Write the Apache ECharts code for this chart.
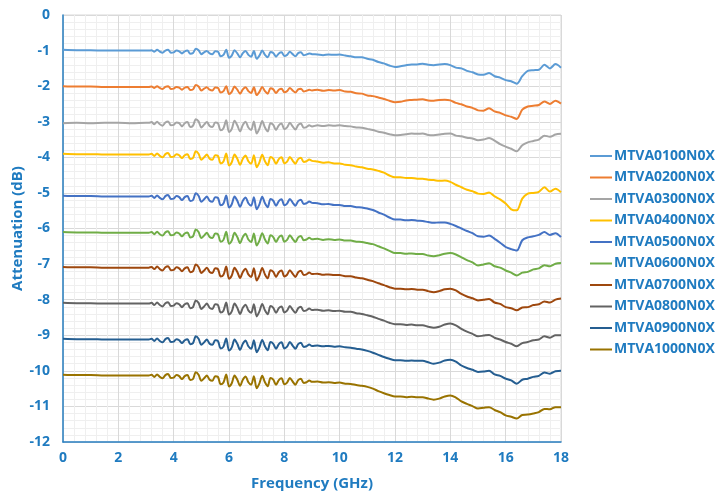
<!DOCTYPE html>
<html>
<head>
<meta charset="utf-8">
<script src="https://cdn.jsdelivr.net/npm/echarts@6/dist/echarts.min.js"></script>
<style>
html,body{margin:0;padding:0;background:#fff;}
#chart{width:723px;height:495px;}
</style>
</head>
<body>
<div id="chart"></div>
<script>
const seriesNames = ['MTVA0100N0X','MTVA0200N0X','MTVA0300N0X','MTVA0400N0X','MTVA0500N0X','MTVA0600N0X','MTVA0700N0X','MTVA0800N0X','MTVA0900N0X','MTVA1000N0X'];
const seriesColors = ['#5B9BD5','#ED7D31','#A5A5A5','#FFC000','#4472C4','#70AD47','#9E480E','#636363','#255E91','#997300'];
const xTicks = [0,2,4,6,8,10,12,14,16,18];
const yTicks = [0,-1,-2,-3,-4,-5,-6,-7,-8,-9,-10,-11,-12];

const freq = [0,0.5,1,1.5,2,2.5,3,
3.1,3.2,3.3,3.4,3.5,3.6,3.7,3.8,3.9,4.0,
4.1,4.2,4.3,4.4,4.5,4.6,4.7,4.8,4.9,5.0,
5.1,5.2,5.3,5.4,5.5,5.6,5.7,5.8,5.9,6.0,
6.1,6.2,6.3,6.4,6.5,6.6,6.7,6.8,6.9,7.0,
7.1,7.2,7.3,7.4,7.5,7.6,7.7,7.8,7.9,8.0,
8.1,8.2,8.3,8.4,8.5,8.6,8.7,8.8,8.9,9.0,
9.2,9.4,9.6,9.8,10.0,10.2,10.4,10.6,10.8,11.0,
11.2,11.4,11.6,11.8,12.0,12.2,12.4,12.6,12.8,13.0,
13.2,13.4,13.6,13.8,14.0,14.2,14.4,14.6,14.8,15.0,
15.2,15.4,15.6,15.8,16.0,16.2,16.4,16.6,16.8,17.0,
17.2,17.4,17.6,17.8,18.0];

const s0100 = [-0.98,-0.99,-0.99,-1.00,-1.00,-1.00,-1.00,
-1.00,-0.99,-1.03,-0.98,-1.03,-1.06,-1.00,-0.98,-1.06,-1.05,
-1.00,-1.02,-1.08,-1.02,-1.00,-1.09,-1.07,-0.95,-0.99,-1.10,
-1.05,-1.01,-1.08,-1.10,-1.02,-1.03,-1.16,-1.12,-0.98,-1.20,
-1.14,-0.99,-1.08,-1.19,-1.07,-1.01,-1.12,-1.17,-1.01,-1.23,
-1.14,-1.00,-1.12,-1.19,-1.04,-1.07,-1.17,-1.08,-1.05,-1.15,
-1.12,-1.03,-1.10,-1.16,-1.07,-1.05,-1.13,-1.11,-1.08,-1.10,
-1.11,-1.13,-1.11,-1.12,-1.11,-1.14,-1.16,-1.19,-1.19,-1.23,
-1.26,-1.32,-1.36,-1.42,-1.46,-1.44,-1.41,-1.39,-1.39,-1.37,
-1.40,-1.41,-1.39,-1.38,-1.41,-1.48,-1.50,-1.57,-1.61,-1.67,
-1.68,-1.63,-1.72,-1.76,-1.83,-1.86,-1.93,-1.72,-1.57,-1.55,
-1.54,-1.40,-1.50,-1.38,-1.48];

const s0200 = [-2.00,-2.01,-2.01,-2.02,-2.02,-2.02,-2.02,
-2.02,-2.01,-2.05,-2.00,-2.05,-2.08,-2.02,-2.00,-2.08,-2.07,
-2.02,-2.04,-2.10,-2.04,-2.02,-2.11,-2.09,-1.97,-2.01,-2.12,
-2.07,-2.03,-2.10,-2.12,-2.04,-2.05,-2.18,-2.14,-2.00,-2.22,
-2.16,-2.01,-2.10,-2.21,-2.09,-2.03,-2.14,-2.19,-2.03,-2.25,
-2.16,-2.02,-2.14,-2.21,-2.06,-2.09,-2.19,-2.10,-2.07,-2.17,
-2.14,-2.05,-2.12,-2.18,-2.09,-2.07,-2.15,-2.13,-2.10,-2.12,
-2.10,-2.13,-2.11,-2.12,-2.11,-2.15,-2.16,-2.20,-2.21,-2.26,
-2.28,-2.32,-2.36,-2.41,-2.45,-2.44,-2.40,-2.39,-2.38,-2.37,
-2.40,-2.41,-2.39,-2.38,-2.40,-2.47,-2.51,-2.57,-2.61,-2.68,
-2.69,-2.62,-2.71,-2.75,-2.82,-2.86,-2.92,-2.66,-2.57,-2.55,
-2.53,-2.43,-2.50,-2.41,-2.49];

const s0300 = [-3.04,-3.03,-3.04,-3.03,-3.03,-3.04,-3.03,
-3.03,-3.01,-3.07,-3.00,-3.07,-3.11,-3.02,-2.99,-3.10,-3.09,
-3.02,-3.04,-3.13,-3.04,-3.01,-3.15,-3.11,-2.93,-2.99,-3.16,
-3.08,-3.01,-3.12,-3.15,-3.02,-3.04,-3.24,-3.18,-2.96,-3.29,
-3.20,-2.97,-3.10,-3.27,-3.09,-3.00,-3.16,-3.23,-2.99,-3.33,
-3.19,-2.98,-3.16,-3.27,-3.04,-3.09,-3.23,-3.10,-3.05,-3.21,
-3.16,-3.03,-3.13,-3.22,-3.09,-3.05,-3.17,-3.15,-3.10,-3.13,
-3.10,-3.12,-3.10,-3.11,-3.10,-3.12,-3.13,-3.16,-3.17,-3.20,
-3.23,-3.28,-3.31,-3.35,-3.38,-3.37,-3.35,-3.33,-3.34,-3.33,
-3.37,-3.38,-3.36,-3.34,-3.33,-3.39,-3.41,-3.45,-3.47,-3.52,
-3.50,-3.46,-3.53,-3.63,-3.70,-3.76,-3.83,-3.66,-3.58,-3.54,
-3.50,-3.39,-3.42,-3.36,-3.34];

const s0400 = [-3.90,-3.91,-3.91,-3.92,-3.92,-3.92,-3.92,
-3.92,-3.90,-3.96,-3.89,-3.96,-4.00,-3.91,-3.88,-3.99,-3.98,
-3.91,-3.94,-4.02,-3.94,-3.91,-4.05,-4.02,-3.83,-3.90,-4.07,
-4.00,-3.92,-4.04,-4.07,-3.94,-3.96,-4.17,-4.12,-3.89,-4.23,
-4.14,-3.92,-4.04,-4.21,-4.04,-3.95,-4.11,-4.18,-3.94,-4.28,
-4.14,-3.93,-4.11,-4.22,-3.99,-4.04,-4.18,-4.05,-4.00,-4.17,
-4.12,-3.99,-4.09,-4.18,-4.05,-4.01,-4.13,-4.11,-4.06,-4.10,
-4.12,-4.15,-4.14,-4.17,-4.17,-4.21,-4.22,-4.26,-4.28,-4.32,
-4.34,-4.38,-4.43,-4.51,-4.56,-4.56,-4.58,-4.58,-4.60,-4.60,
-4.63,-4.64,-4.66,-4.65,-4.69,-4.77,-4.84,-4.91,-4.95,-5.02,
-5.03,-4.99,-5.10,-5.18,-5.30,-5.46,-5.49,-5.16,-5.02,-5.00,
-4.97,-4.84,-4.96,-4.88,-4.98];

const s0500 = [-5.08,-5.09,-5.09,-5.10,-5.10,-5.10,-5.10,
-5.10,-5.08,-5.14,-5.07,-5.14,-5.18,-5.09,-5.06,-5.17,-5.16,
-5.09,-5.12,-5.20,-5.12,-5.09,-5.23,-5.20,-5.01,-5.08,-5.25,
-5.18,-5.10,-5.22,-5.25,-5.12,-5.14,-5.35,-5.30,-5.07,-5.41,
-5.32,-5.10,-5.22,-5.39,-5.22,-5.13,-5.29,-5.36,-5.12,-5.46,
-5.32,-5.11,-5.29,-5.40,-5.17,-5.22,-5.36,-5.23,-5.18,-5.35,
-5.30,-5.17,-5.27,-5.36,-5.23,-5.19,-5.31,-5.29,-5.24,-5.28,
-5.29,-5.32,-5.31,-5.34,-5.34,-5.37,-5.37,-5.40,-5.41,-5.44,
-5.48,-5.55,-5.61,-5.69,-5.75,-5.75,-5.77,-5.76,-5.78,-5.79,
-5.82,-5.84,-5.83,-5.83,-5.87,-5.93,-6.00,-6.07,-6.13,-6.22,
-6.23,-6.20,-6.29,-6.40,-6.52,-6.58,-6.62,-6.33,-6.25,-6.22,
-6.18,-6.10,-6.18,-6.13,-6.24];

const s0600 = [-6.10,-6.11,-6.11,-6.12,-6.12,-6.12,-6.12,
-6.12,-6.10,-6.16,-6.09,-6.16,-6.20,-6.11,-6.08,-6.19,-6.18,
-6.11,-6.14,-6.22,-6.14,-6.11,-6.25,-6.22,-6.03,-6.10,-6.27,
-6.20,-6.12,-6.24,-6.27,-6.14,-6.16,-6.37,-6.32,-6.09,-6.43,
-6.34,-6.12,-6.24,-6.41,-6.24,-6.15,-6.31,-6.38,-6.14,-6.48,
-6.34,-6.13,-6.31,-6.42,-6.19,-6.24,-6.38,-6.25,-6.20,-6.37,
-6.32,-6.19,-6.29,-6.38,-6.25,-6.21,-6.33,-6.31,-6.26,-6.30,
-6.29,-6.32,-6.30,-6.32,-6.31,-6.34,-6.34,-6.37,-6.38,-6.41,
-6.44,-6.50,-6.56,-6.63,-6.69,-6.69,-6.71,-6.70,-6.72,-6.72,
-6.76,-6.78,-6.75,-6.71,-6.69,-6.73,-6.81,-6.89,-6.95,-7.04,
-7.01,-6.98,-7.06,-7.10,-7.18,-7.24,-7.32,-7.24,-7.22,-7.15,
-7.12,-7.03,-7.06,-6.99,-6.97];

const s0700 = [-7.08,-7.09,-7.09,-7.10,-7.10,-7.10,-7.10,
-7.10,-7.08,-7.14,-7.07,-7.14,-7.18,-7.09,-7.06,-7.17,-7.16,
-7.09,-7.12,-7.20,-7.12,-7.09,-7.23,-7.20,-7.01,-7.08,-7.25,
-7.18,-7.10,-7.22,-7.25,-7.12,-7.14,-7.35,-7.30,-7.07,-7.41,
-7.32,-7.10,-7.22,-7.39,-7.22,-7.13,-7.29,-7.36,-7.12,-7.46,
-7.32,-7.11,-7.29,-7.40,-7.17,-7.22,-7.36,-7.23,-7.18,-7.35,
-7.30,-7.17,-7.27,-7.36,-7.23,-7.19,-7.31,-7.29,-7.24,-7.28,
-7.27,-7.30,-7.29,-7.31,-7.31,-7.34,-7.34,-7.38,-7.40,-7.44,
-7.48,-7.54,-7.59,-7.65,-7.69,-7.69,-7.71,-7.70,-7.72,-7.72,
-7.76,-7.79,-7.76,-7.71,-7.69,-7.74,-7.84,-7.91,-7.96,-8.02,
-8.00,-7.98,-8.08,-8.12,-8.21,-8.24,-8.30,-8.22,-8.21,-8.15,
-8.13,-8.05,-8.08,-8.00,-7.97];

const s0800 = [-8.09,-8.10,-8.10,-8.11,-8.11,-8.11,-8.11,
-8.11,-8.09,-8.15,-8.08,-8.15,-8.19,-8.10,-8.07,-8.18,-8.17,
-8.10,-8.13,-8.21,-8.13,-8.10,-8.24,-8.21,-8.02,-8.09,-8.26,
-8.19,-8.11,-8.23,-8.26,-8.13,-8.15,-8.36,-8.31,-8.08,-8.42,
-8.33,-8.11,-8.23,-8.40,-8.23,-8.14,-8.30,-8.37,-8.13,-8.47,
-8.33,-8.12,-8.30,-8.41,-8.18,-8.23,-8.37,-8.24,-8.19,-8.36,
-8.31,-8.18,-8.28,-8.37,-8.24,-8.20,-8.32,-8.30,-8.25,-8.29,
-8.28,-8.31,-8.30,-8.32,-8.31,-8.34,-8.34,-8.38,-8.40,-8.44,
-8.48,-8.54,-8.59,-8.65,-8.69,-8.69,-8.71,-8.70,-8.72,-8.72,
-8.76,-8.79,-8.76,-8.70,-8.67,-8.72,-8.82,-8.90,-8.96,-9.03,
-9.01,-8.99,-9.07,-9.12,-9.19,-9.24,-9.31,-9.22,-9.19,-9.14,
-9.12,-9.03,-9.07,-9.00,-9.00];

const s0900 = [-9.10,-9.11,-9.11,-9.12,-9.12,-9.12,-9.12,
-9.12,-9.10,-9.16,-9.09,-9.16,-9.20,-9.11,-9.08,-9.19,-9.18,
-9.11,-9.14,-9.22,-9.14,-9.11,-9.25,-9.22,-9.03,-9.10,-9.27,
-9.20,-9.12,-9.24,-9.27,-9.14,-9.16,-9.37,-9.32,-9.09,-9.43,
-9.34,-9.12,-9.24,-9.41,-9.24,-9.15,-9.31,-9.38,-9.14,-9.48,
-9.34,-9.13,-9.31,-9.42,-9.19,-9.24,-9.38,-9.25,-9.20,-9.37,
-9.32,-9.19,-9.29,-9.38,-9.25,-9.21,-9.33,-9.31,-9.26,-9.30,
-9.29,-9.31,-9.30,-9.32,-9.31,-9.34,-9.35,-9.38,-9.40,-9.44,
-9.49,-9.55,-9.61,-9.66,-9.70,-9.70,-9.72,-9.71,-9.72,-9.72,
-9.76,-9.80,-9.77,-9.71,-9.69,-9.74,-9.85,-9.92,-9.97,-10.03,
-10.02,-10.00,-10.10,-10.14,-10.22,-10.27,-10.36,-10.25,-10.22,-10.17,
-10.14,-10.05,-10.08,-10.01,-10.00];

const s1000 = [-10.11,-10.12,-10.12,-10.13,-10.13,-10.13,-10.13,
-10.13,-10.11,-10.17,-10.10,-10.17,-10.21,-10.12,-10.09,-10.20,-10.19,
-10.12,-10.15,-10.23,-10.15,-10.12,-10.26,-10.23,-10.04,-10.11,-10.28,
-10.21,-10.13,-10.25,-10.28,-10.15,-10.17,-10.38,-10.33,-10.10,-10.44,
-10.35,-10.13,-10.25,-10.42,-10.25,-10.16,-10.32,-10.39,-10.15,-10.49,
-10.35,-10.14,-10.32,-10.43,-10.20,-10.25,-10.39,-10.26,-10.21,-10.38,
-10.33,-10.20,-10.30,-10.39,-10.26,-10.22,-10.34,-10.32,-10.27,-10.31,
-10.30,-10.33,-10.32,-10.34,-10.33,-10.36,-10.37,-10.40,-10.42,-10.45,
-10.50,-10.57,-10.63,-10.68,-10.72,-10.72,-10.74,-10.73,-10.74,-10.74,
-10.78,-10.81,-10.78,-10.72,-10.69,-10.75,-10.86,-10.93,-10.99,-11.06,
-11.04,-11.02,-11.10,-11.16,-11.25,-11.29,-11.34,-11.24,-11.23,-11.20,
-11.16,-11.07,-11.08,-11.02,-11.02];

const seriesValues = [s0100,s0200,s0300,s0400,s0500,s0600,s0700,s0800,s0900,s1000];

const blue = '#1f7bc0';
const fontFam = '"Open Sans", "DejaVu Sans", sans-serif';

const chart = echarts.init(document.getElementById('chart'), null, {renderer:'canvas'});
chart.setOption({
  animation: false,
  backgroundColor: '#ffffff',
  color: seriesColors,
  grid: {left: 63, right: 162, top: 15, bottom: 53, show: true, borderColor: '#d9d9d9', borderWidth: 1, containLabel: false, outerBoundsMode: 'none'},
  legend: {
    orient: 'vertical', left: 585, top: 144,
    icon: 'rect', itemWidth: 22, itemHeight: 2, itemGap: 7.5,
    textStyle: {color: blue, fontWeight: 'bold', fontSize: 14, fontFamily: fontFam, padding: [0,0,0,-3]},
    data: seriesNames
  },
  xAxis: {
    type: 'value', min: xTicks[0], max: xTicks[xTicks.length-1], interval: 2,
    name: 'Frequency (GHz)', nameLocation: 'middle', nameGap: 34, nameMoveOverlap: false,
    nameTextStyle: {color: blue, fontWeight: 'bold', fontSize: 15, fontFamily: fontFam},
    axisLine: {show: true, onZero: false, lineStyle: {color: '#2a80c2', width: 1.5}},
    axisTick: {show: false},
    axisLabel: {color: blue, fontWeight: 'bold', fontSize: 14, margin: 9, fontFamily: fontFam},
    splitLine: {show: true, lineStyle: {color: '#d9d9d9', width: 1}},
    minorTick: {show: false, splitNumber: 5},
    minorSplitLine: {show: true, lineStyle: {color: '#efefef', width: 1}}
  },
  yAxis: {
    type: 'value', min: yTicks[yTicks.length-1], max: yTicks[0], interval: 1,
    name: 'Attenuation (dB)', nameLocation: 'middle', nameGap: 38, nameRotate: 90, nameMoveOverlap: false,
    nameTextStyle: {color: blue, fontWeight: 'bold', fontSize: 15, fontFamily: fontFam},
    axisLine: {show: true, onZero: false, lineStyle: {color: '#2a80c2', width: 1.5}},
    axisTick: {show: false},
    axisLabel: {color: blue, fontWeight: 'bold', fontSize: 14, margin: 13, fontFamily: fontFam},
    splitLine: {show: true, lineStyle: {color: '#d9d9d9', width: 1}},
    minorTick: {show: false, splitNumber: 5},
    minorSplitLine: {show: true, lineStyle: {color: '#efefef', width: 1}}
  },
  series: seriesNames.map((n, k) => ({
    name: n, type: 'line', showSymbol: false, symbol: 'none', smooth: 0.3,
    lineStyle: {width: 2, color: seriesColors[k]},
    itemStyle: {color: seriesColors[k]},
    data: freq.map((f, i) => [f, seriesValues[k][i]])
  }))
});
</script>
</body>
</html>
